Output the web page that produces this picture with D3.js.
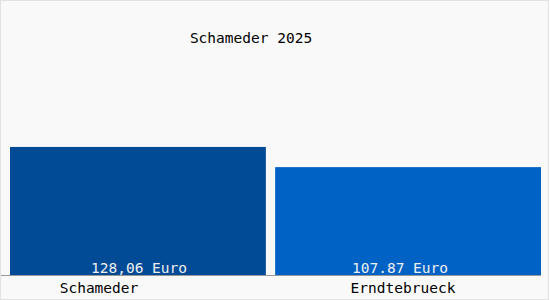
<!DOCTYPE html>
<html>
<head>
<meta charset="utf-8">
<script src="https://cdn.jsdelivr.net/npm/d3@7"></script>
<style>
  body { margin:0; background:#fff; }
  text { font-family: "DejaVu Sans Mono", monospace; font-size:14.5px; }
</style>
</head>
<body>
<div id="chart-area"></div>
<script>
const title = "Schameder 2025";
const categories = ["Schameder", "Erndtebrueck"];
const values = [128.06, 107.87];
const valueLabels = ["128,06 Euro", "107.87 Euro"];

const colors = ['#004a96', '#0062c4'];

const width = 550, height = 300;
const baseY = 275;
const plotLeft = 10;

var svg = d3.select("#chart-area").append("svg")
    .attr("width", width)
    .attr("height", height);

svg.append("rect")
    .attr("x", 0.5).attr("y", 0.5)
    .attr("width", width - 2).attr("height", height - 1)
    .attr("fill", "#f9f9f9")
    .attr("stroke", "#e2e2e2");

// first bar gets cut at the left plot edge, like in the original
svg.append("clipPath")
    .attr("id", "plot")
    .append("rect")
    .attr("x", plotLeft).attr("y", 0)
    .attr("width", width).attr("height", baseY);

// 1px per euro
var y = d3.scaleLinear()
    .domain([0, baseY])
    .range([baseY, 0]);

var x = d3.scaleBand()
    .domain(categories)
    .range([0, 541])
    .paddingInner(0.0338);

// text positions don't sit on bar centres in the original
var xLabel = d3.scalePoint().domain(categories).range([99, 403]);
var xValue = d3.scalePoint().domain(categories).range([139, 400]);

svg.append("text")
    .attr("x", 251)
    .attr("y", 43)
    .attr("text-anchor", "middle")
    .attr("fill", "#000")
    .text(title);

svg.append("g")
    .attr("clip-path", "url(#plot)")
    .selectAll("rect")
    .data(categories)
    .enter()
    .append("rect")
    .attr("x", d => x(d))
    .attr("width", x.bandwidth())
    .attr("y", (d, i) => y(values[i]))
    .attr("height", (d, i) => y(0) - y(values[i]))
    .attr("fill", (d, i) => colors[i]);

svg.append("line")
    .attr("x1", 1).attr("x2", 541)
    .attr("y1", baseY + 0.5).attr("y2", baseY + 0.5)
    .attr("stroke", "#999");

svg.selectAll("text.val")
    .data(categories)
    .enter()
    .append("text")
    .attr("class", "val")
    .attr("x", d => xValue(d))
    .attr("y", 273)
    .attr("text-anchor", "middle")
    .attr("fill", "#f0f0f0")
    .text((d, i) => valueLabels[i]);

svg.selectAll("text.cat")
    .data(categories)
    .enter()
    .append("text")
    .attr("class", "cat")
    .attr("x", d => xLabel(d))
    .attr("y", 293)
    .attr("text-anchor", "middle")
    .attr("fill", "#000")
    .text(d => d);
</script>
</body>
</html>
